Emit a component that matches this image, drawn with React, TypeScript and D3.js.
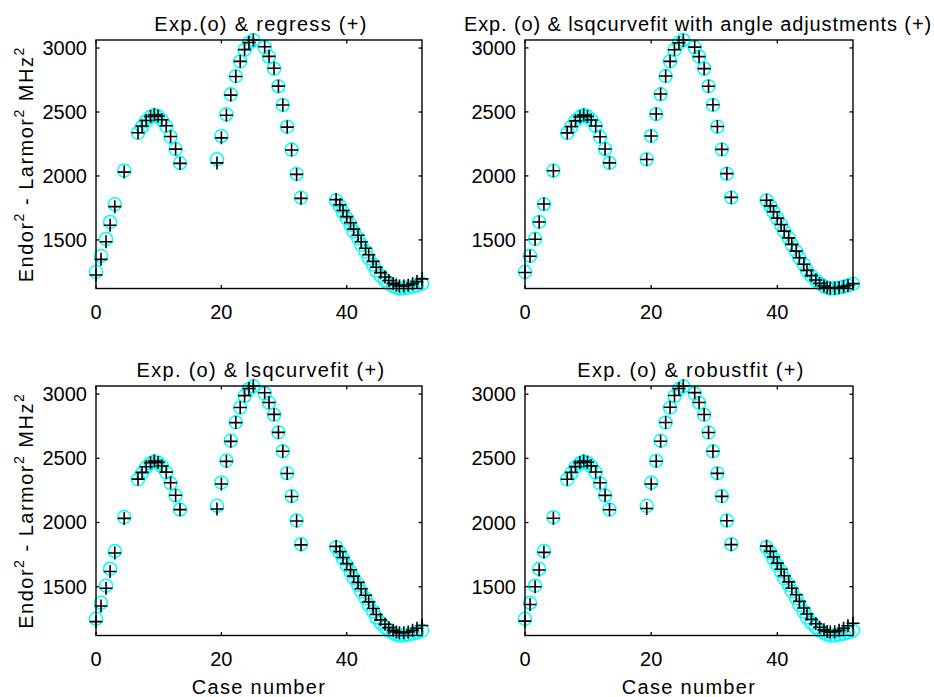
import React from "react";
import * as d3 from "d3";

// ---------- data ----------
const caseX = [
  0, 0.8, 1.6, 2.25, 3.0, 4.5,
  6.7, 7.35, 8.0, 8.7, 9.3, 9.9, 10.5, 11.2, 11.9, 12.7, 13.4,
  19.3, 20.0, 20.8, 21.5, 22.3, 23.0, 23.7, 24.4, 25.1,
  26.9, 27.6, 28.4, 29.1, 29.8, 30.5, 31.2, 32.0, 32.7,
  38.3, 38.9, 39.4, 40.0, 40.6, 41.1, 41.8, 42.3, 43.0, 43.5, 44.2, 44.7,
  45.4, 46.1, 46.7, 47.4, 47.9, 48.4, 49.1, 49.8, 50.5, 51.2, 52.0,
];

const expY = [
  1250, 1375, 1508, 1640, 1778, 2042,
  2336, 2385, 2430, 2462, 2476, 2466, 2438, 2390, 2305, 2210, 2101,
  2130, 2312, 2482, 2638, 2780, 2895, 2985, 3040, 3062,
  3005, 2932, 2839, 2701, 2555, 2385, 2206, 2016, 1831,
  1808, 1765, 1718, 1668, 1618, 1566, 1515, 1463, 1410, 1358, 1307, 1260,
  1219, 1184, 1158, 1138, 1126, 1120, 1121, 1126, 1134, 1143, 1158,
];

const regressY = [
  1225, 1348, 1485, 1615, 1760, 2030,
  2338, 2390, 2434, 2465, 2478, 2468, 2440, 2392, 2308, 2210, 2098,
  2102, 2298, 2475, 2632, 2778, 2896, 2988, 3044, 3063,
  3010, 2935, 2842, 2702, 2555, 2382, 2203, 2012, 1825,
  1815, 1775, 1730, 1682, 1634, 1584, 1536, 1486, 1435, 1384, 1332, 1286,
  1244, 1210, 1182, 1160, 1147, 1140, 1140, 1146, 1158, 1174, 1195,
];

const angleAdjY = [
  1245, 1372, 1505, 1640, 1780, 2040,
  2336, 2386, 2430, 2462, 2475, 2465, 2437, 2390, 2306, 2210, 2102,
  2128, 2312, 2484, 2640, 2781, 2895, 2986, 3040, 3061,
  3006, 2932, 2838, 2700, 2556, 2386, 2207, 2018, 1832,
  1810, 1766, 1720, 1670, 1620, 1568, 1516, 1465, 1412, 1360, 1309, 1262,
  1221, 1186, 1160, 1140, 1128, 1122, 1122, 1127, 1135, 1144, 1158,
];

const lsqY = [
  1228, 1350, 1488, 1618, 1762, 2032,
  2338, 2390, 2434, 2465, 2478, 2468, 2440, 2392, 2310, 2212, 2100,
  2105, 2300, 2476, 2632, 2778, 2896, 2988, 3044, 3063,
  3010, 2935, 2842, 2702, 2555, 2382, 2203, 2012, 1826,
  1814, 1774, 1728, 1680, 1632, 1582, 1534, 1484, 1433, 1382, 1330, 1284,
  1242, 1208, 1181, 1160, 1148, 1141, 1142, 1148, 1160, 1176, 1198,
];

const robustY = [
  1232, 1362, 1500, 1630, 1768, 2034,
  2338, 2392, 2436, 2467, 2480, 2470, 2442, 2394, 2310, 2212, 2100,
  2110, 2300, 2478, 2634, 2780, 2898, 2990, 3045, 3064,
  3012, 2936, 2842, 2702, 2556, 2383, 2204, 2014, 1828,
  1816, 1776, 1732, 1684, 1636, 1586, 1538, 1488, 1437, 1386, 1334, 1288,
  1246, 1212, 1184, 1164, 1152, 1148, 1150, 1160, 1176, 1196, 1215,
];

const titles = [
  "Exp.(o) & regress (+)",
  "Exp. (o) & lsqcurvefit with angle adjustments (+)",
  "Exp. (o) & lsqcurvefit (+)",
  "Exp. (o) & robustfit (+)",
];
const fits = [regressY, angleAdjY, lsqY, robustY];
const xTicks = [0, 20, 40];
const yTicks = [1500, 2000, 2500, 3000];
const xLabel = "Case number";

// ---------- layout ----------
const W = 934;
const H = 697;
const FONT = "'Liberation Sans', Arial, Helvetica, sans-serif";
const boxes = [
  { l: 96, r: 422, t: 40, b: 288.5 },
  { l: 525, r: 853, t: 40, b: 288.5 },
  { l: 96, r: 422, t: 386, b: 635.5 },
  { l: 525, r: 853, t: 386, b: 635.5 },
];
const titleCenterShift = [2, 9, 2, 2];
const titleSpacing = [1.3, 0.9, 1.3, 1.3];
const CYAN = "#00ffff";
const R = 6.5;
const P = 6.5;
const TICK = 3.5;

function Panel({ idx }: { idx: number }) {
  const bx = boxes[idx];
  const fit = fits[idx];
  const x = d3.scaleLinear().domain(d3.extent(caseX) as [number, number]).range([bx.l, bx.r]);
  const allY = expY.concat(fit);
  const y = d3.scaleLinear().domain(d3.extent(allY) as [number, number]).range([bx.b, bx.t]);
  const cx = (bx.l + bx.r) / 2;
  const cy = (bx.t + bx.b) / 2;
  const clipId = `clip${idx}`;
  return (
    <g>
      <defs>
        <clipPath id={clipId}>
          <rect x={bx.l - 20} y={bx.t - 20} width={bx.r - bx.l + 40} height={bx.b - bx.t + 40} />
        </clipPath>
      </defs>
      <rect x={bx.l} y={bx.t} width={bx.r - bx.l} height={bx.b - bx.t} fill="#fff" />
      {xTicks.map((t) => (
        <g key={"xt" + t}>
          <line x1={x(t)} x2={x(t)} y1={bx.b} y2={bx.b - TICK} stroke="#000" strokeWidth={1.3} />
          <line x1={x(t)} x2={x(t)} y1={bx.t} y2={bx.t + TICK} stroke="#000" strokeWidth={1.3} />
          <text x={x(t)} y={bx.b + 30} textAnchor="middle" fontSize={20} fontFamily={FONT} fill="#000">
            {t}
          </text>
        </g>
      ))}
      {yTicks.map((t) => (
        <g key={"yt" + t}>
          <line x1={bx.l} x2={bx.l + TICK} y1={y(t)} y2={y(t)} stroke="#000" strokeWidth={1.3} />
          <line x1={bx.r} x2={bx.r - TICK} y1={y(t)} y2={y(t)} stroke="#000" strokeWidth={1.3} />
          <text x={bx.l - 9} y={y(t) + 7} textAnchor="end" fontSize={20} fontFamily={FONT} fill="#000">
            {t}
          </text>
        </g>
      ))}
      <g clipPath={`url(#${clipId})`}>
        {caseX.map((cxv, i) => (
          <circle key={"c" + i} cx={x(cxv)} cy={y(expY[i])} r={R} fill="none" stroke={CYAN} strokeWidth={1.5} />
        ))}
        {caseX.map((cxv, i) => {
          const px = x(cxv);
          const py = y(fit[i]);
          return (
            <path
              key={"p" + i}
              d={`M${px - P},${py}H${px + P}M${px},${py - P}V${py + P}`}
              stroke="#000"
              strokeWidth={1.6}
              fill="none"
            />
          );
        })}
      </g>
      <rect x={bx.l} y={bx.t} width={bx.r - bx.l} height={bx.b - bx.t} fill="none" stroke="#000" strokeWidth={1.4} />
      <text
        x={cx + titleCenterShift[idx]}
        y={bx.t - 9.5}
        textAnchor="middle"
        fontSize={20}
        letterSpacing={titleSpacing[idx]}
        fontFamily={FONT}
        fill="#000"
      >
        {titles[idx]}
      </text>
      {idx % 2 === 0 && (
        <text
          transform={`translate(${33},${cy}) rotate(-90)`}
          textAnchor="middle"
          fontSize={20}
          letterSpacing={1.5}
          fontFamily={FONT}
          fill="#000"
        >
          Endor
          <tspan dy={-9} fontSize={14}>2</tspan>
          <tspan dy={9}> - Larmor</tspan>
          <tspan dy={-9} fontSize={14}>2</tspan>
          <tspan dy={9}> MHz</tspan>
          <tspan dy={-9} fontSize={14}>2</tspan>
        </text>
      )}
      {idx >= 2 && (
        <text x={cx} y={bx.b + 58} textAnchor="middle" fontSize={20} letterSpacing={1.3} fontFamily={FONT} fill="#000">
          {xLabel}
        </text>
      )}
    </g>
  );
}

export default function App() {
  return (
    <svg
      width={W}
      height={H}
      viewBox={`0 0 ${W} ${H}`}
      style={{ position: "absolute", left: 0, top: 0, background: "#fff" }}
    >
      <rect width={W} height={H} fill="#fff" />
      {[0, 1, 2, 3].map((i) => (
        <Panel key={i} idx={i} />
      ))}
    </svg>
  );
}
